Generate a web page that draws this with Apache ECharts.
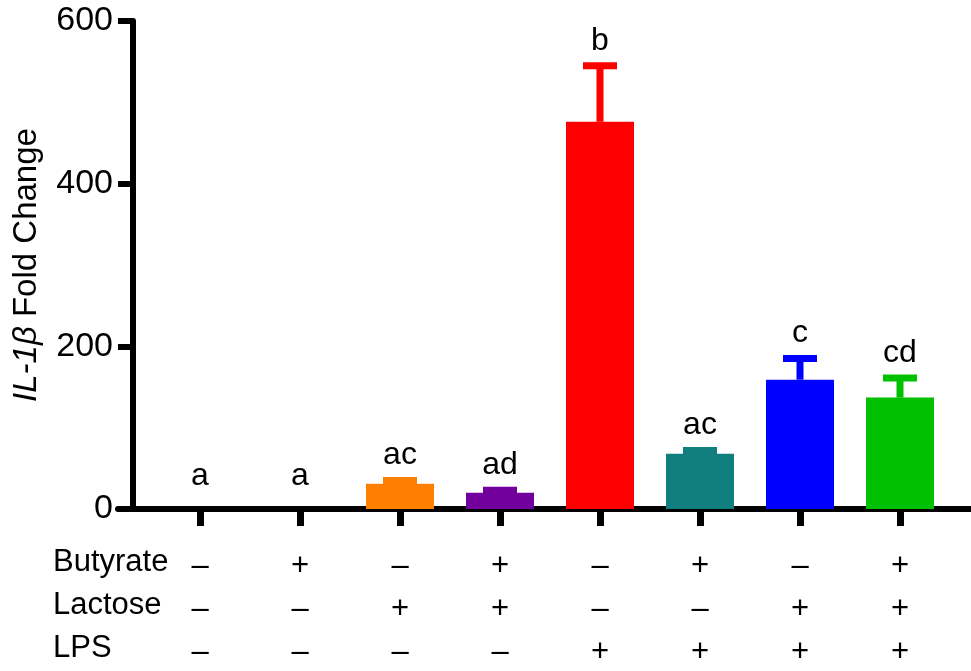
<!DOCTYPE html>
<html>
<head>
<meta charset="utf-8">
<script src="https://cdn.jsdelivr.net/npm/echarts@6/dist/echarts.min.js"></script>
<style>
  html, body { margin: 0; padding: 0; background: #fff; }
  #chart { width: 971px; height: 671px; }
</style>
</head>
<body>
<div id="chart"></div>
<script>
// group data
let groups = ['g1', 'g2', 'g3', 'g4', 'g5', 'g6', 'g7', 'g8']
let means = [0, 0, 31, 20, 476, 68, 159, 137]
let errTops = [0, 0, 35, 23, 545, 72, 185, 161]
let letters = ['a', 'a', 'ac', 'ad', 'b', 'ac', 'c', 'cd']
let colors = ['#000000', '#000000', '#FF8000', '#72009C', '#FF0000', '#127F7F', '#0000FF', '#00C000']
let butyrate = ['–', '+', '–', '+', '–', '+', '–', '+']
let lactose = ['–', '–', '+', '+', '–', '–', '+', '+']
let lps = ['–', '–', '–', '–', '+', '+', '+', '+']
let rowNames = ['Butyrate', 'Lactose', 'LPS']
let yTicks = [0, 200, 400, 600]

let font = '"Liberation Sans", Arial, sans-serif'
let labelMap = {}
groups.forEach(function (g, i) {
    labelMap[g] = butyrate[i] + '\n' + lactose[i] + '\n' + lps[i]
})

let chart = echarts.init(document.getElementById('chart'))
let option = {
    animation: false,
    backgroundColor: '#fff',
    grid: [
        {left: 150, right: 21, top: 21, bottom: 162, outerBoundsMode: 'none'},
        {left: 118, right: 0, top: 21, bottom: 162, outerBoundsMode: 'none'}
    ],
    xAxis: [{
        type: 'category',
        gridIndex: 0,
        data: groups,
        axisLine: {lineStyle: {color: '#000', width: 6}},
        axisTick: {show: true, alignWithLabel: true, length: 17, lineStyle: {color: '#000', width: 7}},
        axisLabel: {
            margin: 36,
            color: '#000',
            fontFamily: font,
            fontSize: 31,
            lineHeight: 43,
            formatter: function (v) { return labelMap[v] }
        }
    }, {
        type: 'value',
        gridIndex: 1,
        min: 0,
        max: 1,
        axisLine: {lineStyle: {color: '#000', width: 6}},
        axisTick: {show: false},
        axisLabel: {show: false},
        splitLine: {show: false}
    }],
    yAxis: [{
        type: 'value',
        gridIndex: 0,
        min: yTicks[0],
        max: yTicks[yTicks.length - 1],
        interval: 200,
        offset: 17,
        axisLine: {show: true, lineStyle: {color: '#000', width: 6}},
        axisTick: {show: true, length: 15, lineStyle: {color: '#000', width: 6}},
        axisLabel: {margin: 20, color: '#000', fontFamily: font, fontSize: 34},
        splitLine: {show: false},
        name: '{i|IL-1β} Fold Change',
        nameLocation: 'middle',
        nameRotate: 90,
        nameGap: 90,
        nameTextStyle: {
            color: '#000',
            fontFamily: font,
            fontSize: 33,
            rich: {i: {fontStyle: 'italic', fontFamily: font, fontSize: 33, color: '#000'}}
        }
    }, {
        type: 'value',
        gridIndex: 1,
        show: false,
        min: 0,
        max: 1
    }],
    graphic: rowNames.map(function (n, k) {
        return {
            type: 'text',
            left: 53,
            top: 547 + k * 43,
            style: {text: n, font: '31px ' + font, fill: '#000'}
        }
    }),
    series: [{
        type: 'bar',
        xAxisIndex: 0,
        yAxisIndex: 0,
        barWidth: 68,
        data: means.map(function (v, i) {
            return {value: v, itemStyle: {color: colors[i]}}
        })
    }, {
        type: 'custom',
        xAxisIndex: 0,
        yAxisIndex: 0,
        data: means.map(function (v, i) { return [i, errTops[i], v] }),
        renderItem: function (params, api) {
            let i = api.value(0)
            let top = api.coord([i, api.value(1)])
            let bot = api.coord([i, api.value(2)])
            let c = colors[i]
            let kids = []
            let gap = 17
            if (api.value(1) > api.value(2)) {
                gap = 9
                kids.push({
                    type: 'line',
                    shape: {x1: top[0], y1: top[1], x2: bot[0], y2: bot[1]},
                    style: {stroke: c, lineWidth: 7}
                }, {
                    type: 'line',
                    shape: {x1: top[0] - 17, y1: top[1], x2: top[0] + 17, y2: top[1]},
                    style: {stroke: c, lineWidth: 7}
                })
            }
            kids.push({
                type: 'text',
                style: {
                    text: letters[i],
                    x: top[0],
                    y: top[1] - gap,
                    align: 'center',
                    verticalAlign: 'bottom',
                    font: '32px ' + font,
                    fill: '#000'
                }
            })
            return {type: 'group', children: kids}
        },
        z: 3
    }]
}
chart.setOption(option)
</script>
</body>
</html>
